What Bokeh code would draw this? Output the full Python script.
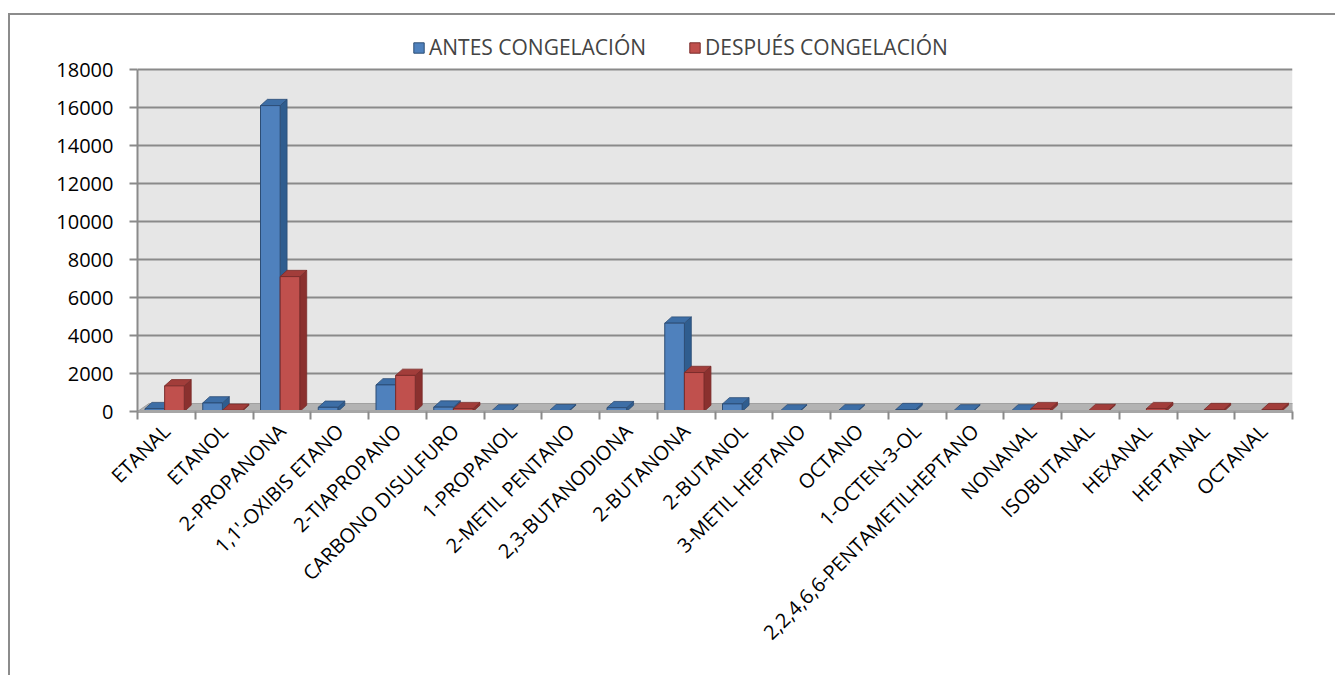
from bokeh.plotting import figure
from bokeh.models import FixedTicker, Legend, LegendItem, ColumnDataSource, Range1d
from bokeh.embed import file_html
from bokeh.resources import INLINE
import math

categories = ["ETANAL", "ETANOL", "2-PROPANONA", "1,1'-OXIBIS ETANO", "2-TIAPROPANO",
              "CARBONO DISULFURO", "1-PROPANOL", "2-METIL PENTANO", "2,3-BUTANODIONA",
              "2-BUTANONA", "2-BUTANOL", "3-METIL HEPTANO", "OCTANO", "1-OCTEN-3-OL",
              "2,2,4,6,6-PENTAMETILHEPTANO", "NONANAL", "ISOBUTANAL", "HEXANAL",
              "HEPTANAL", "OCTANAL"]
antes = [150, 450, 16100, 220, 1400, 230, 30, 40, 200, 4650, 400, 30, 30, 100, 30, 30, 0, 0, 0, 0]
despues = [1350, 60, 7100, 0, 1900, 150, 0, 0, 0, 2050, 0, 0, 0, 0, 0, 150, 50, 150, 100, 100]
y_ticks = [0, 2000, 4000, 6000, 8000, 10000, 12000, 14000, 16000, 18000]

FONT = "Open Sans"
n = len(categories)
centers = [i + 0.5 for i in range(n)]
ymax = y_ticks[-1]

p = figure(width=1327, height=662, output_backend="svg", toolbar_location=None,
           x_range=Range1d(0, n), y_range=Range1d(0, ymax * 379 / 342),
           min_border_left=127, min_border_right=45, min_border_top=17, min_border_bottom=266)
p.margin = (13, 0, 0, 8)
p.styles = {"border-left": "2px solid #8c8c8c", "border-top": "2px solid #8c8c8c"}
p.background_fill_color = "white"
p.border_fill_color = "white"
p.outline_line_color = None

# back wall and floor
p.quad(left=0, right=n, bottom=0, top=ymax, fill_color="#e6e6e6", line_color=None, level="underlay")
p.patch([0, n, n + 0.2, 0.2], [0, 0, 420, 420], fill_color="#b3b3b3", line_color="#a0a0a0",
        level="underlay")

# grid
p.xgrid.grid_line_color = None
p.ygrid.ticker = FixedTicker(ticks=y_ticks[1:])
p.ygrid.grid_line_color = "#8a8a8a"
p.ygrid.grid_line_width = 2

# axes
p.yaxis.ticker = FixedTicker(ticks=y_ticks)
p.yaxis.bounds = (0, ymax)
p.yaxis.major_label_text_font = FONT
p.yaxis.major_label_text_font_size = "20px"
p.yaxis.major_label_text_color = "#000000"
p.yaxis.axis_line_color = "#8a8a8a"
p.yaxis.axis_line_width = 2
p.yaxis.major_tick_line_color = "#8a8a8a"
p.yaxis.major_tick_line_width = 2
p.yaxis.major_tick_out = 8
p.yaxis.major_tick_in = 0
p.yaxis.minor_tick_line_color = None
p.yaxis.major_label_standoff = 16

p.xaxis.ticker = FixedTicker(ticks=centers, minor_ticks=list(range(n + 1)))
p.xaxis.major_label_overrides = {c: name for c, name in zip(centers, categories)}
p.xaxis.major_label_orientation = math.pi / 4
p.xaxis.major_label_text_font = FONT
p.xaxis.major_label_text_font_size = "20px"
p.xaxis.major_label_text_color = "#000000"
p.xaxis.major_tick_line_color = None
p.xaxis.minor_tick_line_color = "#8a8a8a"
p.xaxis.minor_tick_line_width = 2
p.xaxis.minor_tick_out = 8
p.xaxis.minor_tick_in = 0
p.xaxis.axis_line_color = "#a6a6a6"
p.xaxis.axis_line_width = 3
p.xaxis.major_label_standoff = 8

# faux 3D bars
w = 0.34
dx = 0.12
dy = 330

def bars(vals, offset, front, side, top, edge):
    xs = [i + offset for i in range(n)]
    src = ColumnDataSource(dict(x=xs, top=vals))
    sx, sy, tx, ty = [], [], [], []
    for x, v in zip(xs, vals):
        if v <= 0:
            continue
        l, r = x - w / 2, x + w / 2
        sx.append([r, r + dx, r + dx, r])
        sy.append([0, dy, v + dy, v])
        tx.append([l, r, r + dx, l + dx])
        ty.append([v, v, v + dy, v + dy])
    p.patches(sx, sy, fill_color=side, line_color=edge, line_width=0.8)
    p.patches(tx, ty, fill_color=top, line_color=edge, line_width=0.8)
    return p.vbar(x="x", top="top", bottom=0, width=w, source=src,
                  fill_color=front, line_color=edge, line_width=1)

r1 = bars(antes, 0.3, "#4f81bd", "#2f5d8f", "#3d6ea6", "#2c4d75")
r2 = bars(despues, 0.64, "#c0504d", "#8a302e", "#a23d3a", "#7a2c2a")

legend = Legend(items=[LegendItem(label="ANTES CONGELACIÓN", renderers=[r1]),
                       LegendItem(label="DESPUÉS CONGELACIÓN", renderers=[r2])],
                orientation="horizontal", location=(275, 350),
                label_text_font=FONT, label_text_font_size="21px",
                glyph_width=13, glyph_height=13, spacing=42, label_standoff=4,
                background_fill_alpha=0, border_line_color=None,
                padding=0, margin=0)
p.add_layout(legend, "center")

open("out.html", "w").write(file_html(p, INLINE))
